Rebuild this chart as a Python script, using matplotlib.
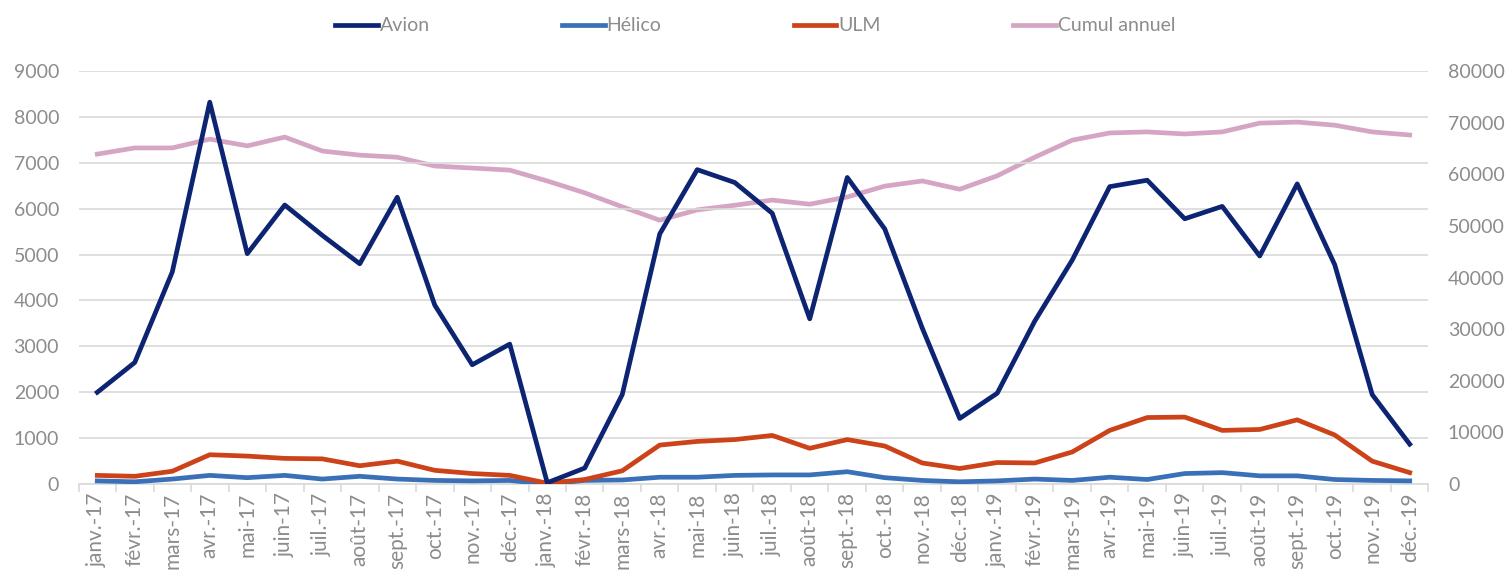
import matplotlib
matplotlib.use("Agg")
import matplotlib.pyplot as plt
import numpy as np

months = ["janv.-17","févr.-17","mars-17","avr.-17","mai-17","juin-17","juil.-17","août-17","sept.-17","oct.-17","nov.-17","déc.-17",
          "janv.-18","févr.-18","mars-18","avr.-18","mai-18","juin-18","juil.-18","août-18","sept.-18","oct.-18","nov.-18","déc.-18",
          "janv.-19","févr.-19","mars-19","avr.-19","mai-19","juin-19","juil.-19","août-19","sept.-19","oct.-19","nov.-19","déc.-19"]
avion = [2000,2650,4620,8320,5020,6080,5420,4800,6250,3900,2600,3050,
         30,350,1950,5450,6850,6570,5900,3600,6680,5560,3400,1430,
         1980,3550,4880,6480,6620,5780,6050,4970,6540,4780,1950,870]
helico = [70,50,110,190,140,190,110,170,110,80,70,80,
          0,80,90,150,150,190,200,200,270,140,80,50,
          70,110,80,150,100,230,250,180,180,100,80,70]
ulm = [190,170,280,640,610,560,550,400,500,300,230,190,
       20,100,290,850,930,970,1060,780,970,830,460,340,
       470,460,700,1170,1450,1460,1170,1190,1400,1070,500,250]
cumul = [63900,65100,65100,66800,65500,67200,64500,63700,63300,61600,61200,60800,
         58700,56400,53700,51100,53100,54000,55000,54200,55600,57700,58700,57100,
         59700,63300,66600,68000,68200,67800,68200,69900,70100,69500,68200,67600]

plt.rcParams['font.family'] = ['Lato', 'DejaVu Sans']
gray = '#8c8c8c'
fs = 14

fig = plt.figure(figsize=(15.1, 5.77), dpi=100)
ax = fig.add_axes([0.052, 0.161, 0.894, 0.716])
ax2 = ax.twinx()

x = np.arange(len(months))
lw = 3.4
l_cum, = ax2.plot(x, cumul, color='#d5a6c4', lw=lw, label='Cumul annuel', solid_joinstyle='round')
l_av, = ax.plot(x, avion, color='#0d2473', lw=lw, label='Avion', zorder=5)
l_he, = ax.plot(x, helico, color='#3a70b8', lw=lw, label='Hélico', zorder=4)
l_ul, = ax.plot(x, ulm, color='#cc4319', lw=lw, label='ULM', zorder=4)

ax.set_zorder(ax2.get_zorder() + 1)
ax.patch.set_visible(False)

ax.set_xlim(-0.5, len(months) - 0.5)
ax.set_ylim(0, 9000)
ax2.set_ylim(0, 80000)
ax.set_yticks(np.arange(0, 9001, 1000))
ax2.set_yticks(np.arange(0, 80001, 10000))
ax.grid(axis='y', color='#d9d9d9', lw=1.2)
ax.set_xticks(x)
ax.set_xticklabels(months, rotation=90, fontsize=15, color=gray)
ax.set_xticks(np.arange(-0.5, len(months), 1), minor=True)
ax.tick_params(axis='x', which='major', length=0, pad=6)
ax.tick_params(axis='x', which='minor', length=6, color='#d9d9d9', width=1.2)
ax.tick_params(axis='y', length=0, labelsize=fs, labelcolor=gray, pad=14)
ax2.tick_params(axis='y', length=0, labelsize=fs, labelcolor=gray, pad=14)

for a in (ax, ax2):
    for s in a.spines.values():
        s.set_visible(False)
ax.spines['bottom'].set_visible(True)
ax.spines['bottom'].set_color('#d9d9d9')
ax.spines['bottom'].set_linewidth(1.2)

fig.legend(handles=[l_av, l_he, l_ul, l_cum], loc='upper center', bbox_to_anchor=(0.5, 1.0),
           ncol=4, frameon=False, fontsize=fs, labelcolor=gray, handlelength=2.2,
           handletextpad=0.1, columnspacing=6.8)

fig.savefig('out.png', dpi=100)
